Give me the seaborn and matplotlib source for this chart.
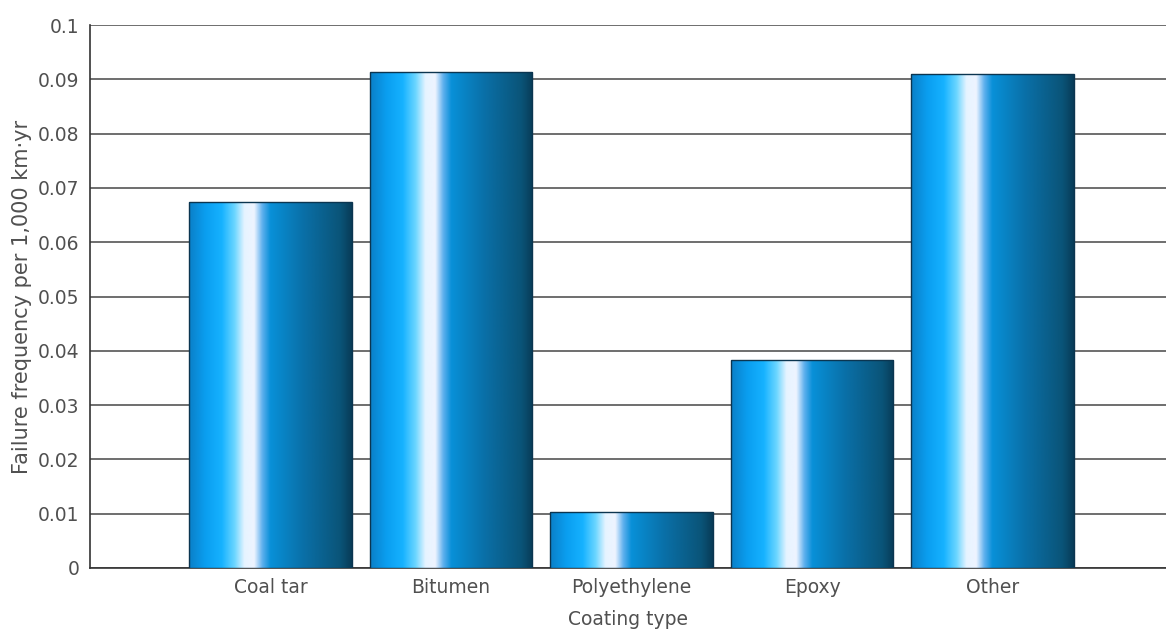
import numpy as np
import pandas as pd
import matplotlib
matplotlib.use("Agg")
import matplotlib.pyplot as plt
from matplotlib.colors import LinearSegmentedColormap
import seaborn as sns

# data
coatings = ["Coal tar", "Bitumen", "Polyethylene", "Epoxy", "Other"]
failure_freq = [0.0674, 0.0913, 0.0103, 0.0383, 0.0910]

df = pd.DataFrame({"Coating type": coatings, "freq": failure_freq})

sns.set_style("white")
plt.rcParams["font.family"] = ["DejaVu Sans"]
text_col = "#505050"

fig = plt.figure(figsize=(11.66, 6.32), dpi=100)
ax = fig.add_axes([0.0772, 0.1013, 0.9228, 0.8591])

sns.barplot(data=df, x="Coating type", y="freq", width=0.9, color="#1a8ed8",
            edgecolor="#0b3550", linewidth=1.0, ax=ax, zorder=3)

# cylinder-like shading for each bar
shade = LinearSegmentedColormap.from_list("cyl", [
    (0.0, "#0a80c8"), (0.10, "#0a9ef0"), (0.20, "#16b2ff"),
    (0.28, "#6cd6ff"), (0.34, "#e6f4ff"), (0.40, "#eef4ff"),
    (0.45, "#5eb0ee"), (0.50, "#0890d8"), (0.70, "#0a70a8"),
    (0.93, "#0a5478"), (1.0, "#083c58")])
grad = np.linspace(0, 1, 256).reshape(1, -1)
for p in ax.patches:
    x0, y0 = p.get_x(), p.get_y()
    w, h = p.get_width(), p.get_height()
    im = ax.imshow(grad, cmap=shade, aspect="auto", extent=[x0, x0 + w, y0, y0 + h],
                   zorder=3.5, interpolation="bicubic")
    im.set_clip_path(p)
    p.set_facecolor("none")
    p.set_zorder(4)

ax.set_xlim(-1.0, 4.96)
ax.set_ylim(0, 0.1)
ax.set_yticks(np.arange(0, 0.1001, 0.01))
ax.set_yticklabels(["0"] + [f"{v:.2f}" for v in np.arange(0.01, 0.0951, 0.01)] + ["0.1"])
ax.yaxis.grid(True, color="#555555", linewidth=1.2, zorder=0)
ax.set_axisbelow(True)

for s in ["top", "right"]:
    ax.spines[s].set_visible(False)
for s in ["left", "bottom"]:
    ax.spines[s].set_color("#333333")
    ax.spines[s].set_linewidth(1.2)

ax.tick_params(axis="both", colors="#333333", labelcolor=text_col,
               direction="out", length=4, width=1)
ax.tick_params(axis="y", labelsize=13.5)
ax.tick_params(axis="x", labelsize=13.5)
ax.set_xlabel("Coating type", fontsize=13.5, color=text_col, labelpad=9)
ax.set_ylabel("Failure frequency per 1,000 km\u00b7yr", fontsize=15, color=text_col, labelpad=4)

fig.savefig("out.png", dpi=100, facecolor="white")
